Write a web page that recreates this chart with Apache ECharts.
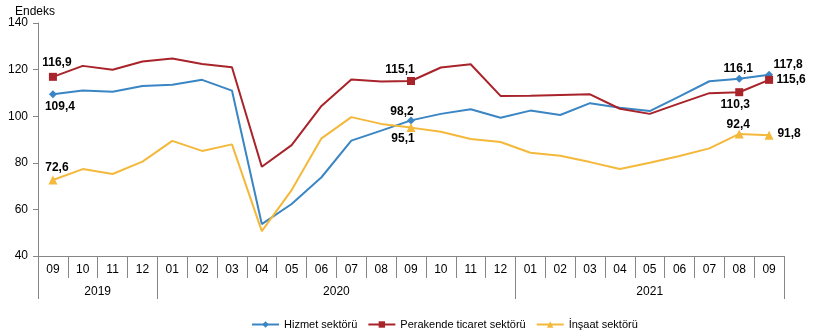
<!DOCTYPE html>
<html>
<head>
<meta charset="utf-8">
<script src="https://cdn.jsdelivr.net/npm/echarts@6/dist/echarts.min.js"></script>
<style>html,body{margin:0;padding:0;background:#fff}#c{width:822px;height:332px}</style>
</head>
<body>
<div id="c"></div>
<script>
// ---- data ----
const months = ['09','10','11','12','01','02','03','04','05','06','07','08','09','10','11','12','01','02','03','04','05','06','07','08','09'];
const years = ['2019','2020','2021'];
const yearSpans = [4, 12, 9];
const hizmet = [109.4,111.0,110.5,113.0,113.5,115.6,111.0,53.7,62.3,73.8,89.5,93.8,98.2,101.0,103.0,99.3,102.4,100.5,105.6,103.6,102.2,108.5,115.0,116.1,117.8];
const perakende = [116.9,121.6,119.9,123.5,124.8,122.4,121.0,78.3,87.6,104.4,115.8,114.9,115.1,120.9,122.3,108.7,108.8,109.1,109.4,103.2,101.0,105.5,109.9,110.3,115.6];
const insaat = [72.6,77.3,75.2,80.5,89.4,85.1,87.9,50.7,68.3,90.5,99.6,96.7,95.1,93.3,90.2,88.9,84.3,83.0,80.3,77.3,80.0,82.9,86.2,92.4,91.8];
const yTicks = [40, 60, 80, 100, 120, 140];
const markedIdx = [0, 12, 23, 24];

// ---- layout/styles ----
const FONT = 'Liberation Sans, Arial, sans-serif';
const AX = '#868686';
const labelOffsets = {
  hizmet:    {0:[7,12], 12:[-9,-9], 23:[-1,-10], 24:[19,-10]},
  perakende: {0:[4,-14], 12:[-11,-11], 23:[-4,12], 24:[22,0]},
  insaat:    {0:[4,-12], 12:[-8,11], 23:[-1,-9], 24:[20,-2]}
};
function buildData(vals, key) {
  return vals.map((v, i) => {
    if (markedIdx.indexOf(i) < 0) return {value: v, symbol: 'none', label: {show: false}};
    return {value: v, label: {show: true, position: 'inside', offset: labelOffsets[key][i]}};
  });
}
// year label/tick positions from spans
const yearBounds = [0];
yearSpans.forEach(s => yearBounds.push(yearBounds[yearBounds.length - 1] + s));
const yearCenters = yearSpans.map((s, i) => yearBounds[i] + s / 2);

const labelStyle = {
  fontFamily: FONT, fontSize: 12, fontWeight: 'bold', color: '#000',
  formatter: p => p.value.toFixed(1).replace('.', ',')
};

function series(name, key, vals, color, symbol, size) {
  return {
    name: name, type: 'line', data: buildData(vals, key),
    xAxisIndex: 0, yAxisIndex: 0,
    symbol: symbol, symbolSize: size, showSymbol: true,
    lineStyle: {color: color, width: 2},
    itemStyle: {color: color},
    label: labelStyle,
    emphasis: {disabled: true},
    animation: false, z: 3
  };
}

const chart = echarts.init(document.getElementById('c'), null, {renderer: 'canvas'});
chart.setOption({
  animation: false,
  title: {text: 'Endeks', left: 10, top: 1, textStyle: {fontFamily: FONT, fontSize: 12, fontWeight: 'normal', color: '#000'}},
  grid: {left: 38, right: 38, top: 23, bottom: 76, containLabel: false},
  legend: {
    left: 246, top: 314, itemWidth: 27, itemHeight: 8, itemGap: 10,
    textStyle: {fontFamily: FONT, fontSize: 11, color: '#000'},
    data: ['Hizmet sektörü', 'Perakende ticaret sektörü', 'İnşaat sektörü']
  },
  xAxis: [
    {
      type: 'category', data: months, boundaryGap: true, position: 'bottom',
      axisLine: {lineStyle: {color: AX, width: 1}},
      axisTick: {show: true, interval: 0, length: 22, lineStyle: {color: AX}},
      axisLabel: {interval: 0, margin: 8, fontFamily: FONT, fontSize: 12, color: '#000'},
      splitLine: {show: false}
    },
    {
      type: 'value', min: 0, max: yearBounds[yearBounds.length - 1], position: 'bottom',
      axisLine: {show: false},
      axisTick: {show: true, customValues: yearBounds, length: 43, lineStyle: {color: AX}},
      axisLabel: {
        customValues: yearCenters, margin: 30, fontFamily: FONT, fontSize: 12, color: '#000',
        formatter: v => { const k = yearCenters.indexOf(v); return k >= 0 ? years[k] : ''; }
      },
      splitLine: {show: false}
    }
  ],
  yAxis: {
    type: 'value', min: yTicks[0], max: yTicks[yTicks.length - 1], interval: 20,
    axisLine: {show: true, lineStyle: {color: AX}},
    axisTick: {show: true, inside: false, length: 5, lineStyle: {color: AX}},
    axisLabel: {margin: 10, fontFamily: FONT, fontSize: 12, color: '#000'},
    splitLine: {show: false}
  },
  series: [
    series('Hizmet sektörü', 'hizmet', hizmet, '#3a85c4', 'diamond', 8),
    series('Perakende ticaret sektörü', 'perakende', perakende, '#a8232a', 'rect', 8),
    series('İnşaat sektörü', 'insaat', insaat, '#f4b83a', 'triangle', 9)
  ]
});
</script>
</body>
</html>
